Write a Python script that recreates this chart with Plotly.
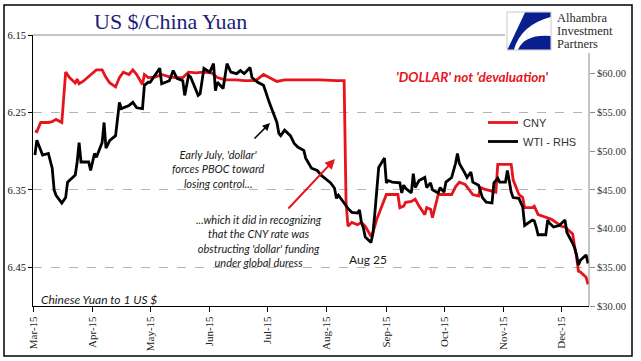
import plotly.graph_objects as go

# ---------------- data ----------------
cny_dates = ["2015-03-02","2015-03-03","2015-03-05","2015-03-09","2015-03-11","2015-03-13","2015-03-16",
             "2015-03-18","2015-03-20","2015-03-23","2015-03-24","2015-03-25","2015-03-27","2015-03-31",
             "2015-04-03","2015-04-06","2015-04-08","2015-04-10","2015-04-13","2015-04-15","2015-04-17",
             "2015-04-20","2015-04-22","2015-04-24","2015-04-27","2015-04-28","2015-04-30","2015-05-04",
             "2015-05-07","2015-05-11","2015-05-14","2015-05-18","2015-05-21","2015-05-25","2015-05-28",
             "2015-06-02","2015-06-05","2015-06-09","2015-06-15","2015-06-19","2015-06-25","2015-06-29",
             "2015-07-02","2015-07-06","2015-07-10","2015-07-17","2015-07-28","2015-08-06","2015-08-10",
             "2015-08-11","2015-08-12","2015-08-14","2015-08-17","2015-08-19","2015-08-21","2015-08-24",
             "2015-08-25","2015-08-27","2015-08-28","2015-09-01","2015-09-03","2015-09-07","2015-09-08",
             "2015-09-10","2015-09-11","2015-09-14","2015-09-16","2015-09-18","2015-09-21","2015-09-22",
             "2015-09-24","2015-09-25","2015-09-28","2015-10-01","2015-10-05","2015-10-07","2015-10-09",
             "2015-10-12","2015-10-14","2015-10-16","2015-10-19","2015-10-20","2015-10-22","2015-10-26",
             "2015-10-28","2015-10-29","2015-11-02","2015-11-05","2015-11-06","2015-11-09","2015-11-11",
             "2015-11-12","2015-11-16","2015-11-17","2015-11-19","2015-11-23","2015-11-26","2015-11-30",
             "2015-12-01","2015-12-03","2015-12-07","2015-12-08","2015-12-09","2015-12-10","2015-12-11",
             "2015-12-14","2015-12-15"]
cny_values = [6.274,6.275,6.263,6.263,6.262,6.259,6.263,
              6.198,6.205,6.212,6.207,6.213,6.210,6.201,
              6.195,6.195,6.205,6.212,6.217,6.205,6.198,
              6.201,6.195,6.201,6.214,6.201,6.205,6.204,
              6.201,6.204,6.205,6.205,6.198,6.199,6.198,
              6.199,6.205,6.208,6.208,6.209,6.209,6.201,
              6.205,6.210,6.208,6.208,6.208,6.209,6.209,
              6.366,6.397,6.392,6.395,6.392,6.397,6.410,
              6.405,6.388,6.382,6.356,6.356,6.356,6.373,
              6.371,6.366,6.365,6.362,6.371,6.382,6.373,
              6.375,6.386,6.356,6.356,6.356,6.346,6.340,
              6.343,6.349,6.356,6.358,6.347,6.349,6.352,
              6.353,6.317,6.317,6.317,6.337,6.356,6.360,
              6.373,6.373,6.371,6.382,6.386,6.388,6.395,
              6.397,6.398,6.407,6.423,6.436,6.455,6.456,
              6.463,6.472]

wti_dates = ["2015-03-02","2015-03-03","2015-03-06","2015-03-09","2015-03-11","2015-03-12","2015-03-13",
             "2015-03-16","2015-03-18","2015-03-19","2015-03-23","2015-03-24","2015-03-25","2015-03-26",
             "2015-03-30","2015-03-31","2015-04-02","2015-04-03","2015-04-06","2015-04-07","2015-04-08",
             "2015-04-10","2015-04-13","2015-04-15","2015-04-16","2015-04-20","2015-04-22","2015-04-24",
             "2015-04-27","2015-04-28","2015-04-30","2015-05-01","2015-05-06","2015-05-07","2015-05-11",
             "2015-05-13","2015-05-15","2015-05-18","2015-05-19","2015-05-21","2015-05-22","2015-05-26",
             "2015-05-27","2015-05-29","2015-06-01","2015-06-03","2015-06-04","2015-06-05","2015-06-08",
             "2015-06-10","2015-06-12","2015-06-15","2015-06-17","2015-06-19","2015-06-22","2015-06-23",
             "2015-06-26","2015-06-29","2015-06-30","2015-07-02","2015-07-06","2015-07-07","2015-07-08",
             "2015-07-10","2015-07-13","2015-07-15","2015-07-17","2015-07-20","2015-07-21","2015-07-24",
             "2015-07-27","2015-07-29","2015-08-03","2015-08-04","2015-08-05","2015-08-06","2015-08-07",
             "2015-08-10","2015-08-12","2015-08-14","2015-08-17","2015-08-18","2015-08-19","2015-08-20",
             "2015-08-21","2015-08-24","2015-08-25","2015-08-26","2015-08-27","2015-08-28","2015-08-31",
             "2015-09-01","2015-09-02","2015-09-04","2015-09-08","2015-09-09","2015-09-10","2015-09-11",
             "2015-09-14","2015-09-15","2015-09-16","2015-09-18","2015-09-21","2015-09-22","2015-09-24",
             "2015-09-25","2015-09-28","2015-09-29","2015-10-01","2015-10-02","2015-10-05","2015-10-07",
             "2015-10-08","2015-10-09","2015-10-12","2015-10-13","2015-10-15","2015-10-16","2015-10-19",
             "2015-10-21","2015-10-23","2015-10-26","2015-10-27","2015-10-29","2015-10-30","2015-11-02",
             "2015-11-03","2015-11-04","2015-11-05","2015-11-06","2015-11-09","2015-11-11","2015-11-12",
             "2015-11-16","2015-11-17","2015-11-18","2015-11-19","2015-11-20","2015-11-23","2015-11-24",
             "2015-11-25","2015-11-27","2015-11-30","2015-12-03","2015-12-04","2015-12-07","2015-12-08",
             "2015-12-09","2015-12-10","2015-12-11","2015-12-14","2015-12-15"]
wti_values = [49.5,51.4,49.5,49.7,47.8,45.0,44.3,
              43.3,44.0,46.0,46.9,48.6,51.1,48.6,
              48.6,47.5,49.7,49.2,51.1,53.7,50.4,
              51.4,52.0,56.3,55.5,55.9,56.3,55.6,
              55.5,58.5,58.9,58.9,60.7,58.7,59.1,
              60.4,59.4,59.1,57.2,59.8,59.6,57.2,
              57.4,60.7,60.2,61.3,57.8,58.9,58.1,
              61.3,60.2,60.0,60.4,60.0,60.8,59.5,
              58.9,58.5,57.8,56.3,53.7,52.3,52.0,
              52.7,52.0,51.0,50.5,50.1,49.1,47.8,
              47.5,46.9,45.9,45.6,45.2,43.9,44.3,
              43.3,42.6,42.1,42.0,42.4,40.8,40.1,
              38.9,38.2,39.4,42.0,45.3,47.9,49.1,
              45.9,46.2,46.0,45.9,44.6,45.6,45.2,
              44.6,47.1,45.3,46.2,46.6,45.3,45.9,
              45.0,44.6,45.3,44.7,46.0,46.6,48.4,
              49.7,48.4,47.1,46.6,47.3,46.0,45.6,
              44.0,43.4,43.3,45.9,46.5,46.0,46.0,
              47.5,46.0,44.7,44.0,43.9,42.8,40.4,
              41.1,41.0,40.2,39.2,39.2,39.2,41.1,
              40.7,40.2,40.4,41.1,39.5,38.1,37.5,
              36.6,35.3,35.9,36.6,35.5]

cny_ticks = [6.15, 6.25, 6.35, 6.45]
wti_ticks = [30, 35, 40, 45, 50, 55, 60]
x_range = ["2015-03-01", "2015-12-15 12:00"]

# ---------------- layout geometry (pixels) ----------------
W, H = 641, 361
L, R, T, B = 33, 589, 35, 306


def px(x):
    return (x - L) / (R - L)


def py(y):
    return (B - y) / (B - T)


RED = "#e8141c"
BLACK = "#000000"
NOTE_FONT = "Lato, 'Open Sans', sans-serif"
SERIF = "'Liberation Serif', 'Times New Roman', serif"


def note(text, x, y, size, color="#1a1a1a", family=NOTE_FONT, xanchor="center", weight="normal"):
    return dict(text=text, x=px(x), y=py(y), xref="paper", yref="paper",
                xanchor=xanchor, yanchor="middle", showarrow=False, align="center",
                borderpad=0, font=dict(family=family, size=size, color=color, weight=weight))


fig = go.Figure()
fig.add_trace(go.Scatter(x=cny_dates, y=cny_values, name="CNY", mode="lines",
                         line=dict(color=RED, width=2.8), yaxis="y"))
fig.add_trace(go.Scatter(x=wti_dates, y=wti_values, name="WTI - RHS", mode="lines",
                         line=dict(color=BLACK, width=2.8), yaxis="y2"))

shapes = [
    dict(type="line", xref="paper", yref="paper", x0=0, x1=1, y0=1, y1=1,
         line=dict(color="#8c8c8c", width=1), layer="above"),
    dict(type="line", xref="paper", yref="paper", x0=1, x1=1, y0=0, y1=py(53),
         line=dict(color="#8c8c8c", width=1), layer="above"),
    dict(type="rect", xref="paper", yref="paper", x0=px(505), x1=px(631), y0=py(53), y1=py(6),
         fillcolor="white", line=dict(width=0), layer="above"),
    dict(type="rect", xref="paper", yref="paper", x0=px(507), x1=px(551), y0=py(50), y1=py(12),
         fillcolor="white", line=dict(color="#c8c8c8", width=1), layer="above"),
    dict(type="path", xref="paper", yref="paper", layer="above", fillcolor="#0a1f8f",
         line=dict(width=0),
         path=(f"M {px(525)},{py(12.5)} L {px(550.5)},{py(12.5)} L {px(550.5)},{py(17)} "
               f"Q {px(521)},{py(25)} {px(514)},{py(49.5)} L {px(507.5)},{py(49.5)} Z")),
    dict(type="path", xref="paper", yref="paper", layer="above", fillcolor="#0a1f8f",
         line=dict(width=0),
         path=(f"M {px(550.5)},{py(36)} Q {px(525)},{py(34)} {px(518)},{py(49.5)} "
               f"L {px(550.5)},{py(49.5)} Z")),
    dict(type="rect", xref="paper", yref="paper", x0=px(4), x1=px(632), y0=py(356), y1=py(5),
         line=dict(color="black", width=1.5), fillcolor="rgba(0,0,0,0)", layer="above"),
]

annotations = [
    note("US $/China Yuan", 170, 22, 22, color="#1c1c78", family=SERIF),
    note("<i>'DOLLAR' not 'devaluation'</i>", 472, 77, 13.5, color=RED, weight="bold"),
    note("<i>Early July, 'dollar'<br>forces PBOC toward<br>losing control...</i>", 218, 169, 11),
    note("<i>...which it did in recognizing<br>that the CNY rate was<br>"
         "obstructing 'dollar' funding<br>under global duress</i>", 259, 241, 11),
    note("Aug 25", 368, 259, 12),
    note("<i>Chinese Yuan to 1 US $</i>", 40, 299, 12, xanchor="left"),
    dict(text="", x=px(270), y=py(123), xref="paper", yref="paper", showarrow=True,
         ax=-17, ay=17, arrowhead=2, arrowsize=1, arrowwidth=1.5, arrowcolor="black"),
    dict(text="", x=px(335), y=py(159), xref="paper", yref="paper", showarrow=True,
         ax=-48, ay=51, arrowhead=2, arrowsize=1, arrowwidth=2, arrowcolor=RED),
    note("Alhambra", 556, 18, 12.5, color="#2b2b2b", family=SERIF, xanchor="left"),
    note("Investment", 556, 31, 12.5, color="#2b2b2b", family=SERIF, xanchor="left"),
    note("Partners", 556, 44, 12.5, color="#2b2b2b", family=SERIF, xanchor="left"),
]

fig.update_layout(
    width=W, height=H,
    margin=dict(l=L, r=W - R, t=T, b=H - B, pad=0, autoexpand=False),
    paper_bgcolor="white", plot_bgcolor="white",
    showlegend=True,
    legend=dict(x=px(483), y=py(108), xanchor="left", yanchor="top",
                bgcolor="rgba(0,0,0,0)", font=dict(family="'Liberation Sans', Arial, sans-serif",
                                                   size=11, color="#333333"),
                itemwidth=30, tracegroupgap=0),
    xaxis=dict(type="date", range=x_range, dtick="M1", tick0="2015-03-01",
               tickformat="%b-%y", tickangle=-90, ticks="outside", ticklen=5,
               tickcolor="black", showline=True, linecolor="black", linewidth=1,
               showgrid=False, zeroline=False, automargin=False,
               tickfont=dict(family=SERIF, size=11, color="#222222")),
    yaxis=dict(range=[6.5, 6.15], tickvals=cny_ticks, tickformat=".2f",
               ticks="outside", ticklen=4, tickcolor="black",
               showline=True, linecolor="black", linewidth=1,
               showgrid=True, gridcolor="#b4b4b4", griddash="dash", gridwidth=1,
               zeroline=False, automargin=False,
               tickfont=dict(family=SERIF, size=10.5, color="#111111")),
    yaxis2=dict(range=[30, 65], tickvals=wti_ticks, tickformat="$.2f", overlaying="y",
                side="right", ticks="outside", ticklen=5, tickcolor="#8c8c8c",
                showline=False, showgrid=False, zeroline=False, automargin=False,
                tickfont=dict(family=SERIF, size=10.5, color="#333333")),
    shapes=shapes,
    annotations=annotations,
)

fig.write_html("out.html", config={"displayModeBar": False},
               post_script="document.body.style.margin='0';document.body.style.overflow='hidden';")
